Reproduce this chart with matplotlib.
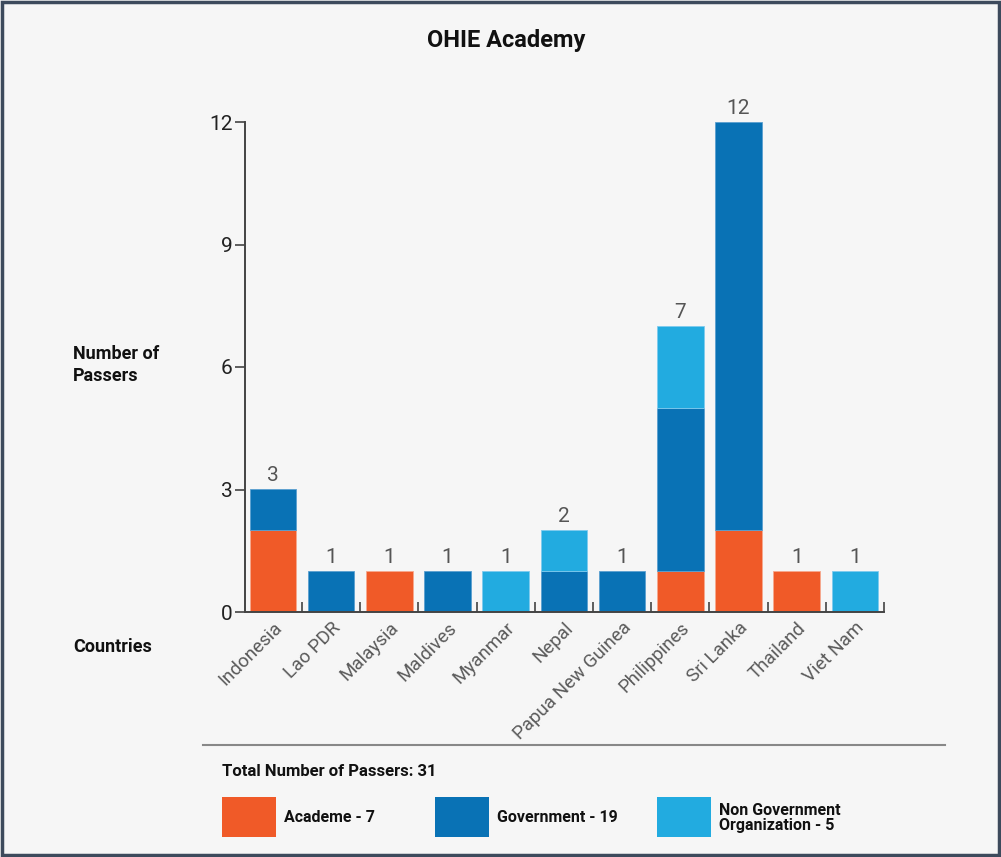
import numpy as np
import matplotlib.pyplot as plt
from matplotlib.patches import Rectangle

plt.rcParams['font.family'] = ['Roboto', 'DejaVu Sans']

# data
countries = ['Indonesia', 'Lao PDR', 'Malaysia', 'Maldives', 'Myanmar', 'Nepal',
             'Papua New Guinea', 'Philippines', 'Sri Lanka', 'Thailand', 'Viet Nam']
academe = [2, 0, 1, 0, 0, 0, 0, 1, 2, 1, 0]
government = [1, 1, 0, 1, 0, 1, 1, 4, 10, 0, 0]
ngo = [0, 0, 0, 0, 1, 1, 0, 2, 0, 0, 1]
y_ticks = [0, 3, 6, 9, 12]

c_acad = '#F05A28'
c_gov = '#0972B5'
c_ngo = '#22ABE0'

W, H = 1001, 857
fig = plt.figure(figsize=(W / 100, H / 100), dpi=100)
fig.patch.set_facecolor('#f6f6f6')

def fx(px):
    return px / W

def fy(py):
    return 1 - py / H

ax = fig.add_axes([fx(245), fy(612), fx(884) - fx(245), fy(122) - fy(612)])
ax.set_facecolor('none')

x = np.arange(len(countries))
a = np.array(academe)
g = np.array(government)
n = np.array(ngo)
bw = 0.8
bottom = np.zeros(len(countries))
for vals, col, ec in [(a, c_acad, '#f6a98f'), (g, c_gov, '#5a9fd0'), (n, c_ngo, '#7fcbee')]:
    m = vals > 0
    ax.bar(x[m], vals[m], bw, bottom=bottom[m], color=col, edgecolor=ec, linewidth=0.6)
    bottom = bottom + vals

totals = a + g + n
for xi, t in zip(x, totals):
    ax.text(xi, t + 0.1, str(t), ha='center', va='bottom', fontsize=15,
            color='#555555', clip_on=False)

ax.set_xlim(-0.48, len(countries) - 0.5)
ax.set_ylim(0, 12)
ax.set_yticks(y_ticks)
ax.tick_params(axis='y', labelsize=15, length=7, width=1.2, color='#444444',
               labelcolor='#222222', pad=2)
ax.set_xticks(x)
ax.set_xticklabels(countries, rotation=45, ha='right', rotation_mode='anchor',
                   fontsize=13.5, color='#5a5a5a')
ax.tick_params(axis='x', length=0, pad=5)
ax.set_xticks(x + 0.5, minor=True)
ax.tick_params(axis='x', which='minor', direction='in', length=7, width=1.2,
               color='#444444')
for s in ['top', 'right']:
    ax.spines[s].set_visible(False)
for s in ['left', 'bottom']:
    ax.spines[s].set_color('#444444')
    ax.spines[s].set_linewidth(1.4)

# titles and side labels
fig.text(fx(506), fy(40), 'OHIE Academy', ha='center', va='center',
         fontsize=17, fontweight='bold', color='#111111')
fig.text(fx(73), fy(365), 'Number of\nPassers', ha='left', va='center',
         fontsize=13, fontweight='bold', color='#111111', linespacing=1.3)
fig.text(fx(73), fy(647), 'Countries', ha='left', va='center',
         fontsize=13, fontweight='bold', color='#111111')

# separator line
fig.add_artist(plt.Line2D([fx(203), fx(945)], [fy(745), fy(745)],
                          color='#888888', linewidth=1.5))

fig.text(fx(222), fy(772), 'Total Number of Passers: %d' % totals.sum(),
         ha='left', va='center', fontsize=12, fontweight='bold', color='#111111')

legend_items = [
    (c_acad, 'Academe - %d' % a.sum(), 222),
    (c_gov, 'Government - %d' % g.sum(), 435),
    (c_ngo, 'Non Government\nOrganization - %d' % n.sum(), 657),
]
for col, lab, px in legend_items:
    fig.add_artist(Rectangle((fx(px), fy(837)), fx(54), fy(797) - fy(837),
                             transform=fig.transFigure, facecolor=col,
                             edgecolor='none'))
    fig.text(fx(px + 62), fy(818), lab, ha='left', va='center', fontsize=11.5,
             fontweight='bold', color='#111111', linespacing=1.05)

# frame around the figure
fig.add_artist(Rectangle((0.002, 0.002), 0.996, 0.996, transform=fig.transFigure,
                         facecolor='none', edgecolor='#3d4a5c', linewidth=2.5))

fig.savefig('out.png', dpi=100, facecolor=fig.get_facecolor())
